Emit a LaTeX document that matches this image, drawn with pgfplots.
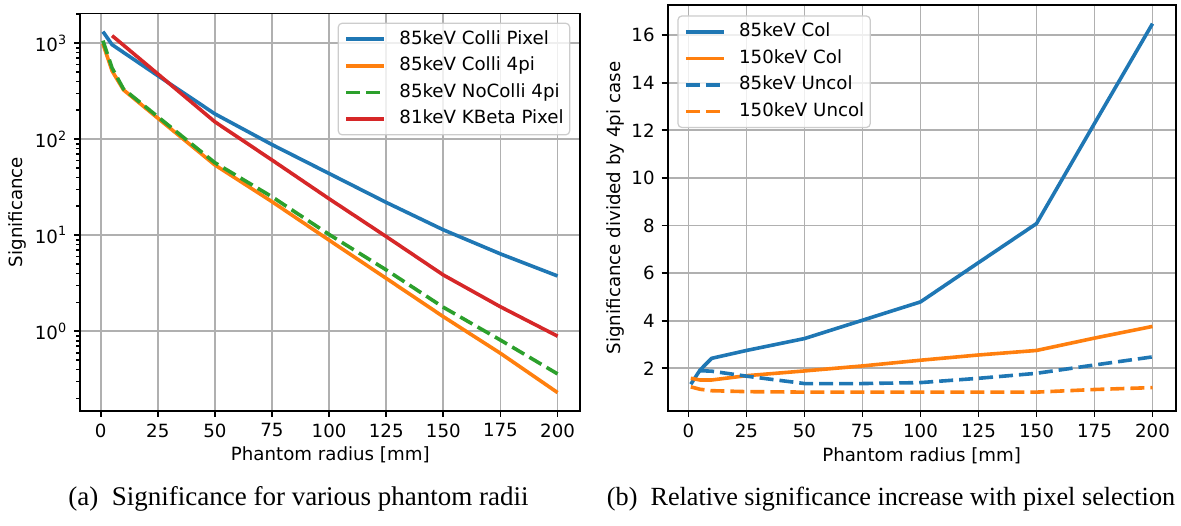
\documentclass[border=0pt]{standalone}
\usepackage{fontspec}
\setmainfont{Liberation Serif}
\newfontfamily\dejavu{DejaVu Sans}
\usepackage{pgfplots}
\pgfplotsset{compat=1.18}
\definecolor{c1}{HTML}{1F77B4}
\definecolor{c2}{HTML}{FF7F0E}
\definecolor{c3}{HTML}{2CA02C}
\definecolor{c4}{HTML}{D62728}
\definecolor{gridc}{HTML}{B0B0B0}
\definecolor{legc}{HTML}{CCCCCC}
\newcommand{\af}{\dejavu\fontsize{9.1}{10.9}\selectfont}
\pgfplotsset{
  mystyle/.style={
    scale only axis,
    /pgf/number format/assume math mode=true,
    tick label style={font=\af},
    legend style={font=\af, fill=white, fill opacity=0.8, draw opacity=1, text opacity=1,
      draw=legc, line width=0.6pt, rounded corners=2pt, inner xsep=3pt, inner ysep=3.6pt,
      row sep=4.6pt,
      nodes={inner sep=0pt, text height=6.8pt, text depth=1.9pt},
      /tikz/every odd column/.append style={column sep=6.8pt}},
    legend cell align=left,
    legend image code/.code={\draw[##1] (0pt,0pt) -- (19pt,0pt);},
    grid=major,
    major grid style={draw=gridc, line width=0.9pt},
    axis line style={line width=0.9pt},
    tick style={line width=0.9pt, black},
    major tick length=3pt,
    minor tick length=1.9pt,
    tick align=outside,
    xtick pos=bottom, ytick pos=left,
    xmin=-8.95, xmax=209.95,
    xtick={0,25,...,200},
    xlabel={Phantom radius [mm]},
    every axis x label/.style={at={(axis description cs:0.5,-0.112)}, anchor=center, font=\af},
  },
  pl/.style={line width=1.8pt, line join=round},
  dsh/.style={dash pattern=on 7pt off 3pt},
}
\begin{document}
\begin{tikzpicture}
\path[use as bounding box] (0,0) rectangle (590.5pt,262.5pt);
\begin{axis}[mystyle,
  at={(40.1pt,57.2pt)}, anchor=south west,
  width=250.05pt, height=198.55pt,
  ymode=log, ymin=0.1493, ymax=2042,
  ytick={1,10,100,1000},
  yticklabels={10\textsuperscript{0},10\textsuperscript{1},10\textsuperscript{2},10\textsuperscript{3}},
  minor ytick={0.2,0.3,0.4,0.5,0.6,0.7,0.8,0.9,2,3,4,5,6,7,8,9,20,30,40,50,60,70,80,90,200,300,400,500,600,700,800,900,2000},
  ylabel={Significance},
  every axis y label/.style={at={(axis description cs:-0.1264,0.5)}, rotate=90, anchor=center, font=\af},
  legend style={at={(0.98,0.977)}, anchor=north east},
]
\addplot[pl, c1] coordinates {(1,1323) (5,967) (10,803) (25,460) (50,184) (75,88) (100,44) (125,22) (150,11.4) (175,6.4) (200,3.77)};
\addlegendentry{85keV Colli Pixel}
\addplot[pl, c2] coordinates {(1,990) (5,515) (10,327) (25,166) (50,54) (75,22.4) (100,8.9) (125,3.56) (150,1.42) (175,0.59) (200,0.23)};
\addlegendentry{85keV Colli 4pi}
\addplot[pl, c3, dsh] coordinates {(1,1064) (5,553) (10,334) (25,172) (50,57) (75,25.2) (100,10.2) (125,4.36) (150,1.78) (175,0.81) (200,0.36)};
\addlegendentry{85keV NoColli 4pi}
\addplot[pl, c4] coordinates {(5,1200) (10,955) (25,480) (50,152) (75,60.8) (100,24) (125,9.7) (150,3.86) (175,1.8) (200,0.89)};
\addlegendentry{81keV KBeta Pixel}
\end{axis}
\begin{axis}[mystyle,
  at={(333.85pt,57.1pt)}, anchor=south west,
  width=253.95pt, height=202.8pt,
  ymin=0.215, ymax=17.255,
  ytick={2,4,...,16},
  ylabel={Significance divided by 4pi case},
  every axis y label/.style={at={(axis description cs:-0.1028,0.5)}, rotate=90, anchor=center, font=\af},
  legend style={at={(0.019,0.975)}, anchor=north west},
]
\addplot[pl, c1] coordinates {(1,1.33) (5,1.93) (10,2.42) (25,2.75) (50,3.25) (75,4.02) (100,4.79) (125,6.44) (150,8.08) (175,12.29) (200,16.48)};
\addlegendentry{85keV Col}
\addplot[pl, c2] coordinates {(1,1.58) (5,1.51) (10,1.51) (25,1.69) (50,1.89) (75,2.10) (100,2.34) (125,2.56) (150,2.75) (175,3.27) (200,3.76)};
\addlegendentry{150keV Col}
\addplot[pl, c1, dsh] coordinates {(5,1.90) (10,1.88) (25,1.67) (50,1.36) (75,1.36) (100,1.40) (125,1.58) (150,1.79) (175,2.14) (200,2.48)};
\addlegendentry{85keV Uncol}
\addplot[pl, c2, dsh] coordinates {(1,1.22) (5,1.12) (10,1.06) (25,1.02) (50,1.0) (75,1.0) (100,1.0) (125,1.0) (150,1.0) (175,1.11) (200,1.19)};
\addlegendentry{150keV Uncol}
\end{axis}
\node[font=\fontsize{13.5}{16}\selectfont, anchor=base] at (149.25pt,10pt) {(a)\enspace Significance for various phantom radii};
\node[font=\fontsize{13.1}{16}\selectfont, anchor=base] at (445.5pt,10pt) {(b)\enspace Relative significance increase with pixel selection};
\end{tikzpicture}
\end{document}
